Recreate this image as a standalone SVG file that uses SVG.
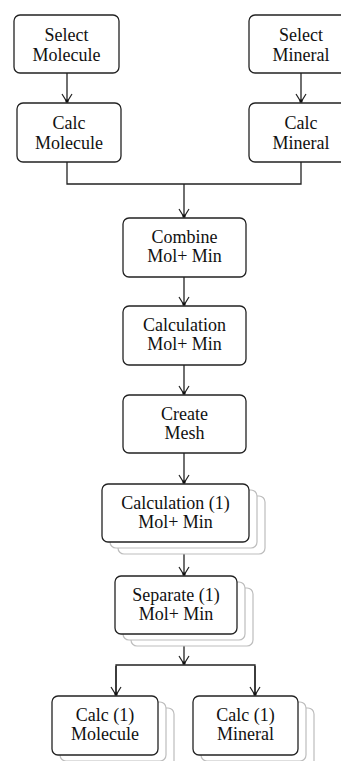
<svg xmlns="http://www.w3.org/2000/svg" width="341" height="761" viewBox="0 0 341 761">
<style>
.box{fill:#fff;stroke:#222;stroke-width:1.3}
.sh{fill:#fff;stroke:#bdbdbd;stroke-width:1.2}
.t{font-family:"Liberation Serif","Times New Roman",serif;font-size:18px;fill:#111;text-anchor:middle}
.c{fill:none;stroke:#222;stroke-width:1.3}
</style>
<defs>
<marker id="ah" viewBox="-10 -7 12 14" refX="0" refY="0" markerWidth="12" markerHeight="14" markerUnits="userSpaceOnUse" orient="auto">
<path d="M-8,-5 L0,0 L-8,5" fill="none" stroke="#222" stroke-width="1.2"/>
<rect x="-2.5" y="-1.5" width="3" height="3" fill="#111"/>
</marker>
</defs>
<rect width="341" height="761" fill="#fff"/>
<g id="connectors">
<path class="c" d="M67,73 V102" marker-end="url(#ah)"/>
<path class="c" d="M301,73 V102" marker-end="url(#ah)"/>
<path class="c" d="M67,162 V184 H301 V162"/>
<path class="c" d="M184,184 V217" marker-end="url(#ah)"/>
<path class="c" d="M184,277 V305" marker-end="url(#ah)"/>
<path class="c" d="M184,365 V394" marker-end="url(#ah)"/>
<path class="c" d="M184,453 V483" marker-end="url(#ah)"/>
<path class="c" d="M184,542 V575" marker-end="url(#ah)"/>
<path class="c" d="M184,634 V664" marker-end="url(#ah)"/>
<path class="c" d="M116,695 V665 H255 V695"/>
<path class="c" d="M116,666 V695" marker-end="url(#ah)"/>
<path class="c" d="M255,666 V695" marker-end="url(#ah)"/>
</g>
<g id="select-molecule">
<rect class="box" x="14" y="15" width="105" height="58" rx="6"/>
<text class="t" x="66.5" y="41">Select</text>
<text class="t" x="66.5" y="61">Molecule</text>
</g>
<g id="select-mineral">
<rect class="box" x="249" y="15" width="105" height="58" rx="6"/>
<text class="t" x="301" y="41">Select</text>
<text class="t" x="301" y="61">Mineral</text>
</g>
<g id="calc-molecule">
<rect class="box" x="17" y="103" width="104" height="59" rx="6"/>
<text class="t" x="69" y="129">Calc</text>
<text class="t" x="69" y="149">Molecule</text>
</g>
<g id="calc-mineral">
<rect class="box" x="249" y="103" width="105" height="59" rx="6"/>
<text class="t" x="301" y="129">Calc</text>
<text class="t" x="301" y="149">Mineral</text>
</g>
<g id="combine">
<rect class="box" x="123" y="218" width="123" height="59" rx="6"/>
<text class="t" x="184.5" y="243">Combine</text>
<text class="t" x="184.5" y="262">Mol+ Min</text>
</g>
<g id="calculation">
<rect class="box" x="123" y="306" width="123" height="59" rx="6"/>
<text class="t" x="184.5" y="331">Calculation</text>
<text class="t" x="184.5" y="350">Mol+ Min</text>
</g>
<g id="create-mesh">
<rect class="box" x="123" y="395" width="123" height="58" rx="6"/>
<text class="t" x="184.5" y="420">Create</text>
<text class="t" x="184.5" y="439">Mesh</text>
</g>
<g id="calculation-1">
<rect class="sh" x="118" y="496" width="147" height="58" rx="6"/>
<rect class="sh" x="110" y="490" width="147" height="58" rx="6"/>
<rect class="box" x="102" y="484" width="147" height="58" rx="6"/>
<text class="t" x="175.5" y="509">Calculation (1)</text>
<text class="t" x="175.5" y="528">Mol+ Min</text>
</g>
<g id="separate-1">
<rect class="sh" x="131" y="588" width="122" height="58" rx="6"/>
<rect class="sh" x="123" y="582" width="122" height="58" rx="6"/>
<rect class="box" x="115" y="576" width="122" height="58" rx="6"/>
<text class="t" x="176" y="601">Separate (1)</text>
<text class="t" x="176" y="620">Mol+ Min</text>
</g>
<g id="calc-1-molecule">
<rect class="sh" x="68" y="708" width="106" height="59" rx="6"/>
<rect class="sh" x="60" y="702" width="106" height="59" rx="6"/>
<rect class="box" x="52" y="696" width="106" height="59" rx="6"/>
<text class="t" x="105" y="721">Calc (1)</text>
<text class="t" x="105" y="740">Molecule</text>
</g>
<g id="calc-1-mineral">
<rect class="sh" x="209" y="708" width="105" height="59" rx="6"/>
<rect class="sh" x="201" y="702" width="105" height="59" rx="6"/>
<rect class="box" x="193" y="696" width="105" height="59" rx="6"/>
<text class="t" x="245.5" y="721">Calc (1)</text>
<text class="t" x="245.5" y="740">Mineral</text>
</g>
</svg>
